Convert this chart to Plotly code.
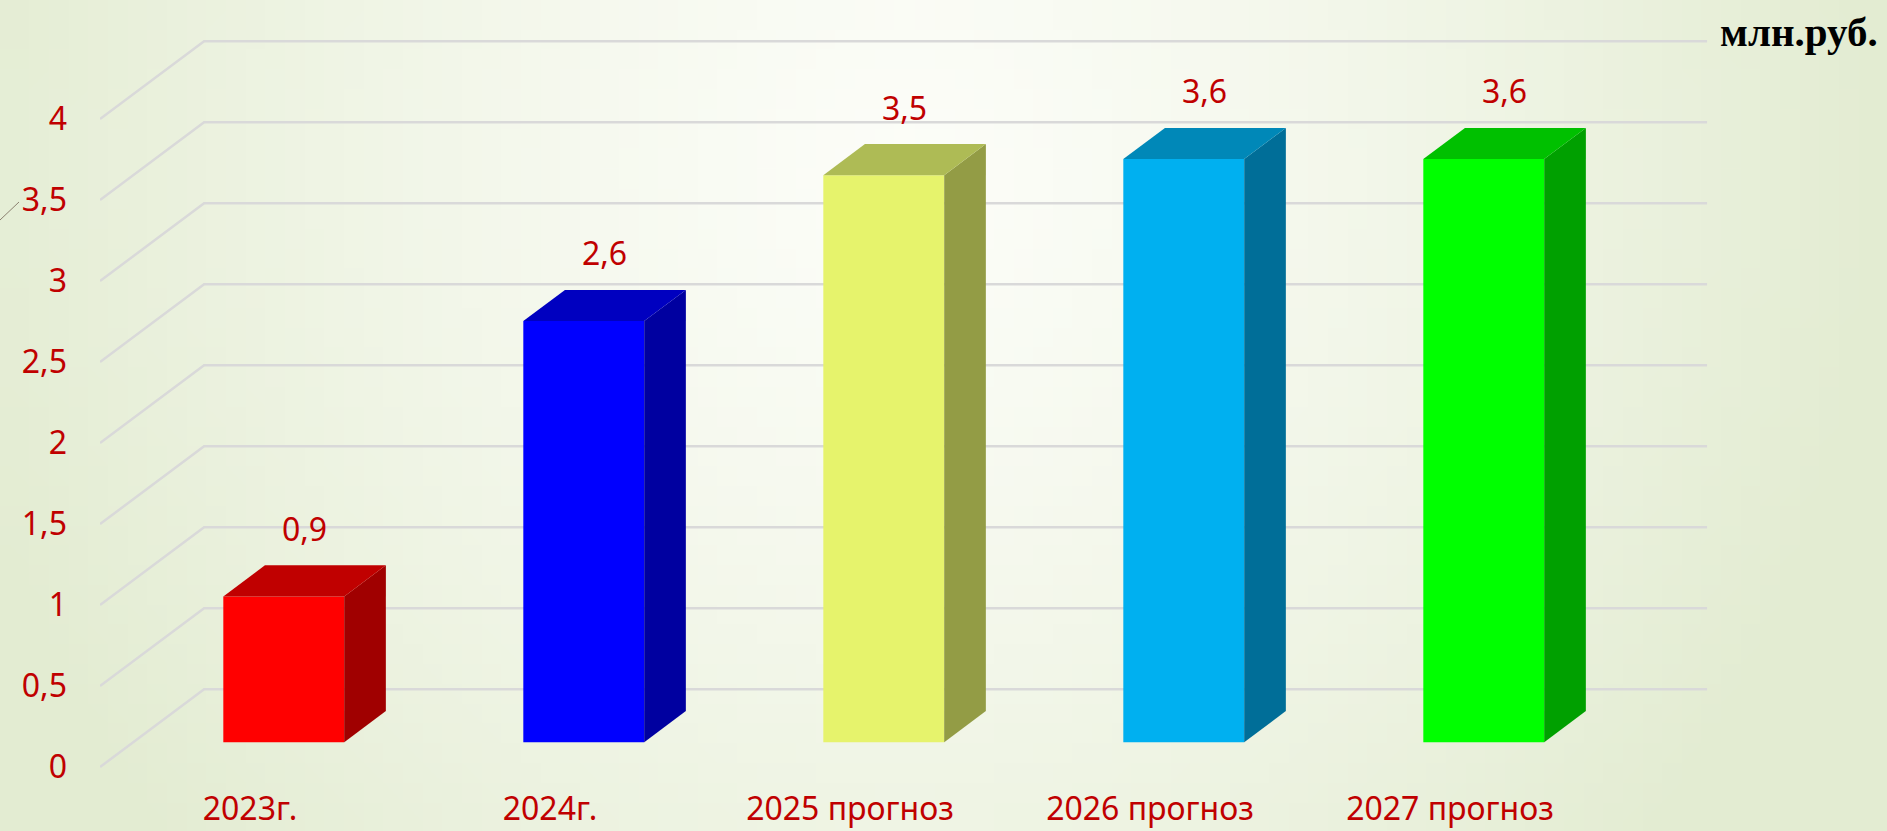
import base64
import struct
import zlib

import plotly.graph_objects as go

# data (млн.руб.)
categories = ["2023г.", "2024г.", "2025 прогноз", "2026 прогноз", "2027 прогноз"]
values = [0.9, 2.6, 3.5, 3.6, 3.6]
y_ticks = [0, 0.5, 1, 1.5, 2, 2.5, 3, 3.5, 4]

# colours: front, top, side
front_colors = ["#FF0000", "#0000FF", "#E6F36C", "#00B0F0", "#00FF00"]
top_colors = ["#C00000", "#0000C0", "#AEBB55", "#0088B8", "#00C000"]
side_colors = ["#A00000", "#0000A0", "#939C45", "#006E98", "#00A000"]

RED = "#C00000"
FONT = "Noto Sans"

# oblique "3-D" geometry in axis units
DX, DY = 0.347, 0.48        # full depth of the floor / walls
F1, F2 = 0.32, 0.72         # front / back plane of the columns
BAR_W = 0.403
X_LEFT, X_RIGHT = -0.5, 4.857


def comma(v, fmt="{:g}"):
    return fmt.format(v).replace(".", ",")


def gradient_png(w=96, h=42):
    # soft light-green background, whiter in the middle
    c0 = (252, 253, 248)
    c1 = (227, 236, 210)
    rows = b""
    for j in range(h):
        row = bytearray([0])
        for i in range(w):
            x, y = i / (w - 1), j / (h - 1)
            t = (((x - 0.48) / 0.52) ** 2 + ((y - 0.2) / 1.3) ** 2) ** 0.5
            t = min(1.0, t) ** 1.3
            row += bytes(int(round(a + (b - a) * t)) for a, b in zip(c0, c1))
        rows += bytes(row)

    def chunk(tag, data):
        return (struct.pack(">I", len(data)) + tag + data
                + struct.pack(">I", zlib.crc32(tag + data) & 0xFFFFFFFF))

    png = (b"\x89PNG\r\n\x1a\n"
           + chunk(b"IHDR", struct.pack(">IIBBBBB", w, h, 8, 2, 0, 0, 0))
           + chunk(b"IDAT", zlib.compress(rows, 9))
           + chunk(b"IEND", b""))
    return "data:image/png;base64," + base64.b64encode(png).decode()


fig = go.Figure()

bdx, bdy = (F2 - F1) * DX, (F2 - F1) * DY
base = F1 * DY

# side and top faces of each column
for i, v in enumerate(values):
    xl = i - 0.2 + F1 * DX
    xr = xl + BAR_W
    top = base + v
    fig.add_trace(go.Scatter(
        x=[xr, xr, xr + bdx, xr + bdx, xr], y=[base, top, top + bdy, base + bdy, base],
        fill="toself", fillcolor=side_colors[i], mode="lines",
        line=dict(width=0, color=side_colors[i]), hoverinfo="skip"))
    fig.add_trace(go.Scatter(
        x=[xl, xr, xr + bdx, xl + bdx, xl], y=[top, top, top + bdy, top + bdy, top],
        fill="toself", fillcolor=top_colors[i], mode="lines",
        line=dict(width=0, color=top_colors[i]), hoverinfo="skip"))

# front faces
fig.add_trace(go.Bar(
    x=[i - 0.2 + F1 * DX + BAR_W / 2 for i in range(len(values))],
    y=values, base=base, width=BAR_W,
    marker=dict(color=front_colors, line=dict(width=0)), hoverinfo="skip"))

# value labels above the columns
fig.add_trace(go.Scatter(
    x=[i - 0.2 + F1 * DX + BAR_W / 2 + bdx / 2 for i in range(len(values))],
    y=[v + F2 * DY + 0.2 for v in values],
    mode="text", text=[comma(v, "{:.1f}") for v in values],
    textfont=dict(family=FONT, size=32, color=RED), hoverinfo="skip"))

# perspective gridlines (floor edge -> back wall)
for t in y_ticks:
    fig.add_shape(type="path", layer="below",
                  path=f"M {X_LEFT},{t} L {X_LEFT + DX},{t + DY} L {X_RIGHT},{t + DY}",
                  line=dict(color="#D9D9D9", width=2.5))

W, H = 1887, 831
ML, MR, MT, MB = 100, 167, 0, 44
pw, ph = W - ML - MR, H - MT - MB

fig.add_layout_image(dict(
    source=gradient_png(), xref="paper", yref="paper",
    x=-ML / pw, y=1 + MT / ph, sizex=W / pw, sizey=H / ph,
    xanchor="left", yanchor="top", sizing="stretch", layer="below"))

# small stray stroke left of the axis
fig.add_shape(type="line", xref="paper", yref="paper",
              x0=-100 / pw, y0=(ph - 220) / ph, x1=-81 / pw, y1=(ph - 202) / ph,
              line=dict(color="#8B8070", width=1))

fig.add_annotation(text="<b>млн.руб.</b>", xref="paper", yref="paper",
                   x=(1880 - ML) / pw, y=(ph - 32) / ph, xanchor="right", yanchor="middle",
                   showarrow=False,
                   font=dict(family="Liberation Serif", size=41, color="#000000"))

fig.update_layout(
    width=W, height=H,
    margin=dict(l=ML, r=MR, t=MT, b=MB, pad=0),
    paper_bgcolor="rgba(0,0,0,0)", plot_bgcolor="rgba(0,0,0,0)",
    showlegend=False, barmode="overlay",
    xaxis=dict(range=[-0.5, 4.9], tickvals=list(range(len(categories))),
               ticktext=categories, showgrid=False, zeroline=False,
               showline=False, ticks="", automargin=False,
               tickfont=dict(family=FONT, size=32, color=RED)),
    yaxis=dict(range=[-0.123, 4.735], tickvals=y_ticks,
               ticktext=[comma(t) for t in y_ticks], showgrid=False,
               zeroline=False, showline=False, ticks="", automargin=False,
               ticklabelstandoff=32,
               tickfont=dict(family=FONT, size=32, color=RED)),
)

fig.write_html("out.html",
               config={"displayModeBar": False},
               post_script="document.body.style.margin='0';"
                           "document.body.style.overflow='hidden';")
